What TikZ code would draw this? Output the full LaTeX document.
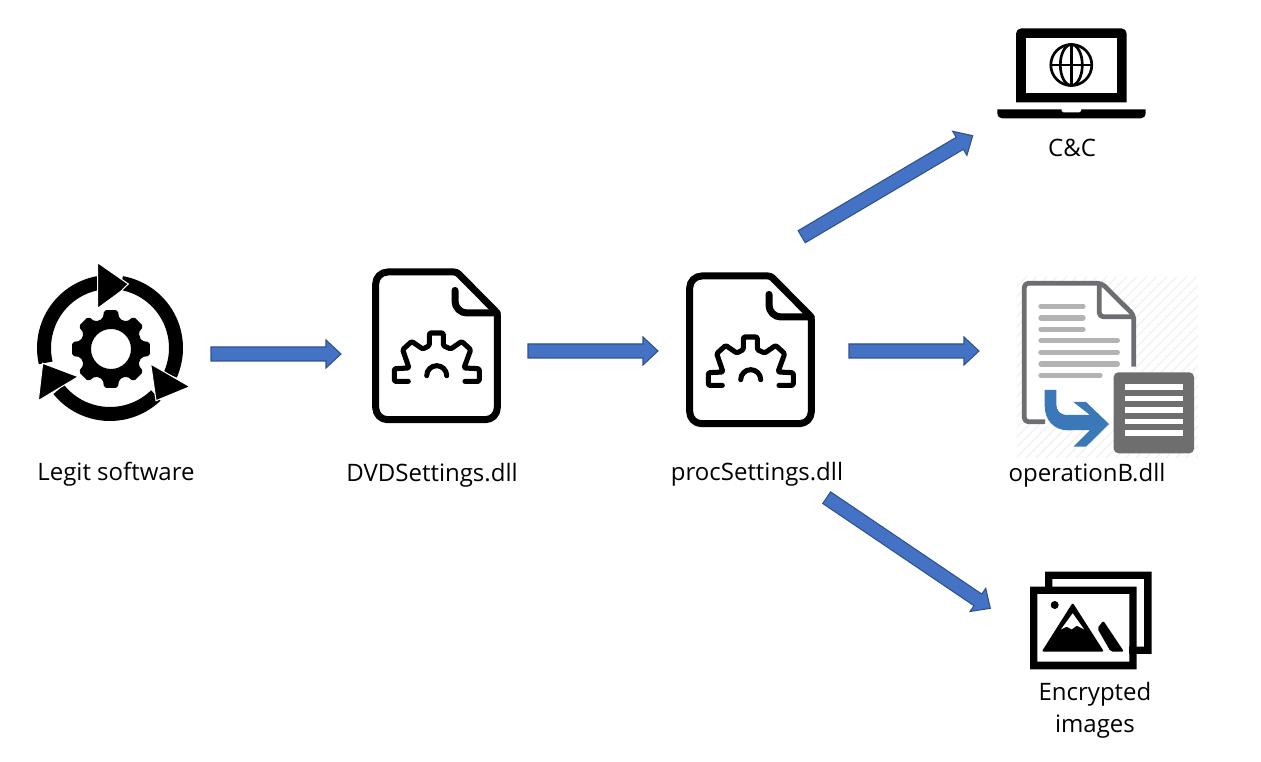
\documentclass[tikz,border=0pt]{standalone}
\usepackage{fontspec}
\setmainfont{Open Sans}
\usetikzlibrary{calc}
\definecolor{arrowfill}{HTML}{4472C4}
\definecolor{arrowedge}{HTML}{2F528F}
\definecolor{docgray}{HTML}{6D6E71}
\definecolor{docline}{HTML}{B3B3B3}
\definecolor{boxgray}{HTML}{6E6E6E}
\definecolor{turnblue}{HTML}{3B78B8}
\definecolor{hatch}{HTML}{F3F3F3}
\tikzset{
  blockarrow/.style={draw=arrowedge,fill=arrowfill,line width=0.8pt,line join=miter,
    to path={
      ($(\tikztostart)!5.25pt!90:(\tikztotarget)$)
      -- ($($(\tikztotarget)!11.25pt!(\tikztostart)$)!5.25pt!90:(\tikztotarget)$)
      -- ($($(\tikztotarget)!11.25pt!(\tikztostart)$)!10.5pt!90:(\tikztotarget)$)
      -- (\tikztotarget)
      -- ($($(\tikztotarget)!11.25pt!(\tikztostart)$)!10.5pt!-90:(\tikztotarget)$)
      -- ($($(\tikztotarget)!11.25pt!(\tikztostart)$)!5.25pt!-90:(\tikztotarget)$)
      -- ($(\tikztostart)!5.25pt!-90:(\tikztotarget)$)
      -- cycle}},
  caption/.style={font=\fontsize{18pt}{24.2pt}\selectfont,align=center,inner sep=0pt,text=black},
  ringarc/.style={draw=black,line width=10.5pt},
  ringhead/.style={fill=black,draw=white,line width=0.8pt,line join=miter},
  fileline/.style={draw=black,line width=5.25pt,line cap=round,line join=round},
  gearline/.style={draw=black,line width=3.8pt,line cap=round,line join=round},
  docedge/.style={draw=docgray,line width=3.6pt,line join=round},
  docrow/.style={draw=docline,line width=4pt,line cap=round},
  boxrow/.style={draw=white,line width=4pt},
  fileicon/.pic={
    \draw[fileline,rounded corners=9pt]
      (3.7,80) -- (3.7,2.3) [rounded corners=2pt] -- (84.7,2.3) -- (125.3,43.3)
      [rounded corners=9pt] -- (125.3,150) -- (3.7,150) -- cycle;
    \draw[fileline,rounded corners=9pt] (83,20.7) -- (83,43.3) -- (125.3,43.3);
    \draw[gearline,rounded corners=1pt]
      (36.3,111.7) -- (22.3,111.7) -- (22.3,99) -- (37,98.3) -- (30.7,80) -- (39.7,71.7)
      -- (50.7,79.3) -- (57.3,76) -- (57.3,63.3) -- (71.3,63.3) -- (71.3,76) -- (78.7,79.3)
      -- (89.7,71.7) -- (98.7,80) -- (92,98.3) -- (107.3,99) -- (107.3,111.7) -- (93,111.7);
    \draw[gearline] (54.7,106) arc[start angle=180,end angle=360,x radius=10,y radius=10];
  }
}
\begin{document}
\begin{tikzpicture}[x=0.75pt,y=-0.75pt]
\useasboundingbox (0,0) rectangle (1261,762);

% cycle of three arrows around a gear
\begin{scope}[shift={(110,348)}]
  \draw[ringarc] (167:66) arc[start angle=167,end angle=262,radius=66];
  \draw[ringarc] (-80:66) arc[start angle=-80,end angle=24,radius=66];
  \draw[ringarc] (46:66) arc[start angle=46,end angle=141,radius=66];
  \fill[ringhead] (-12.3,-85.3) -- (18.3,-64) -- (10,-56) -- (-12.3,-39.7) -- cycle;
  \fill[ringhead] (40.7,16) -- (80,38.7) -- (46,52.7) -- cycle;
  \fill[ringhead] (-67.3,15.3) -- (-31.7,28.7) -- (-71.7,52.7) -- cycle;
\end{scope}
\begin{scope}[shift={(111,349)}]
  \fill[even odd rule,rounded corners=1.5pt]
    (-22.5:31) \foreach \a in {0,45,...,315} {
      -- (\a-22.5:31) -- (\a-15:31.5) -- (\a-10:39.5) -- (\a+10:39.5) -- (\a+15:31.5)
    } -- cycle
    (0,0) circle[radius=20];
\end{scope}

% settings libraries
\pic at (372,269.7) {fileicon};
\pic at (686,273.7) {fileicon};

% laptop with a globe
\fill[rounded corners=4pt]
  (1016,102.3) [sharp corners] -- (1016,102.3) [rounded corners=4pt] -- (1016,28.3)
  -- (1126.7,28.3) [sharp corners] -- (1126.7,102.3) -- cycle;
\fill[white] (1025.7,37.7) rectangle (1117,92.7);
\fill (997.3,109.3) -- (1145.7,109.3) [rounded corners=3.5pt] -- (1145.7,118.3)
  -- (997.3,118.3) [sharp corners] -- (997.3,109.3) -- cycle;
\fill[white] (1061.7,108.9) -- (1081,108.9) -- (1081,111) -- (1079,112.5) -- (1063.7,112.5) -- (1061.7,111) -- cycle;
\begin{scope}[shift={(1071.3,65)},line width=2pt]
  \draw (0,0) circle[radius=20.5];
  \draw (0,0) ellipse[x radius=11,y radius=20.5];
  \draw (-20.5,0) -- (20.5,0);
  \draw (0,-20.5) -- (0,20.5);
\end{scope}

% copied document with a turning arrow
\begin{scope}
  \clip (1016.7,276.7) rectangle (1198,458);
  \foreach \k in {0,10,...,370} {
    \draw[hatch,line width=1.2pt] (1016.7+\k-181,458) -- (1016.7+\k,276.7);
  }
\end{scope}
\fill[white] (1024.3,283.3) -- (1101.7,283.3) -- (1133.7,315) -- (1133.7,421.7) -- (1024.3,421.7) -- cycle;
\draw[docedge,rounded corners=3pt]
  (1045,421.7) -- (1024.3,421.7) -- (1024.3,283.3) -- (1101.7,283.3) -- (1133.7,315) -- (1133.7,366.7);
\draw[docedge,rounded corners=3pt] (1099.3,283.3) -- (1099.3,316.7) -- (1133.7,316.7);
\foreach \y in {306.3,318,329.3} { \draw[docrow] (1041,\y) -- (1083,\y); }
\foreach \y in {340.7,352.3,364} { \draw[docrow] (1041,\y) -- (1117.3,\y); }
\draw[docrow] (1041,375.3) -- (1100,375.3);
\fill[boxgray,rounded corners=3.5pt] (1113.7,372.3) rectangle (1194,453.3);
\foreach \y in {387,398.7,410,421.3,433} { \draw[boxrow] (1125,\y) -- (1182.7,\y); }
\fill[turnblue]
  (1044.7,390) -- (1056.3,390) -- (1056.3,404) .. controls (1056.3,411) and (1060,415) .. (1068,415)
  -- (1090,415) -- (1073.3,402) -- (1086,402) -- (1109,424) -- (1086,446.7) -- (1073.3,446.7)
  -- (1090,430) -- (1068,430.3) .. controls (1054,430.3) and (1044.7,420) .. (1044.7,406) -- cycle;

% stacked pictures with mountains
\fill[even odd rule] (1045,571.7) rectangle (1151.7,654) (1052.3,579) rectangle (1144,646.7);
\fill[white] (1037,594) rectangle (1129,662);
\fill[even odd rule] (1030,586.7) rectangle (1136.7,669.3) (1037.3,594) rectangle (1129.3,661.7);
\fill (1054.7,605) circle[radius=4];
\fill[rounded corners=1.5pt] (1072.7,602.7) -- (1104,651.7) -- (1041.7,651.7) -- cycle;
\fill[white] (1072.7,613.3) -- (1061,629.3) -- (1066.7,626.7) -- (1071.7,629.3) -- (1076.7,625.7) -- (1084,629.3) -- cycle;
\fill[rounded corners=1.5pt] (1103.3,620.7) -- (1124,651.7) -- (1110.7,651.7) -- (1097.3,628.3) -- cycle;

% captions
\node[caption] (legit) at (116,474.5) {Legit software};
\node[caption] (dvd) at (432,475.5) {DVDSettings.dll};
\node[caption] (proc) at (757,474.5) {procSettings.dll};
\node[caption] (opb) at (1087,475.5) {operationB.dll};
\node[caption] (cc) at (1072,148) {C\&C};
\node[caption,text width=160pt] (enc) at (1095,710) {Encrypted\\images};

% arrow end points
\coordinate (legitOut) at (211,354);
\coordinate (dvdIn) at (341,354);
\coordinate (dvdOut) at (528,351);
\coordinate (procIn) at (658,351);
\coordinate (procOut) at (849,351);
\coordinate (opbIn) at (979,351);
\coordinate (procUp) at (801.7,236.7);
\coordinate (ccIn) at (972.7,135.7);
\coordinate (procDown) at (826.7,497.7);
\coordinate (encIn) at (990.3,608.3);

\draw[blockarrow] (legitOut) to (dvdIn);
\draw[blockarrow] (dvdOut) to (procIn);
\draw[blockarrow] (procOut) to (opbIn);
\draw[blockarrow] (procUp) to (ccIn);
\draw[blockarrow] (procDown) to (encIn);
\end{tikzpicture}
\end{document}
